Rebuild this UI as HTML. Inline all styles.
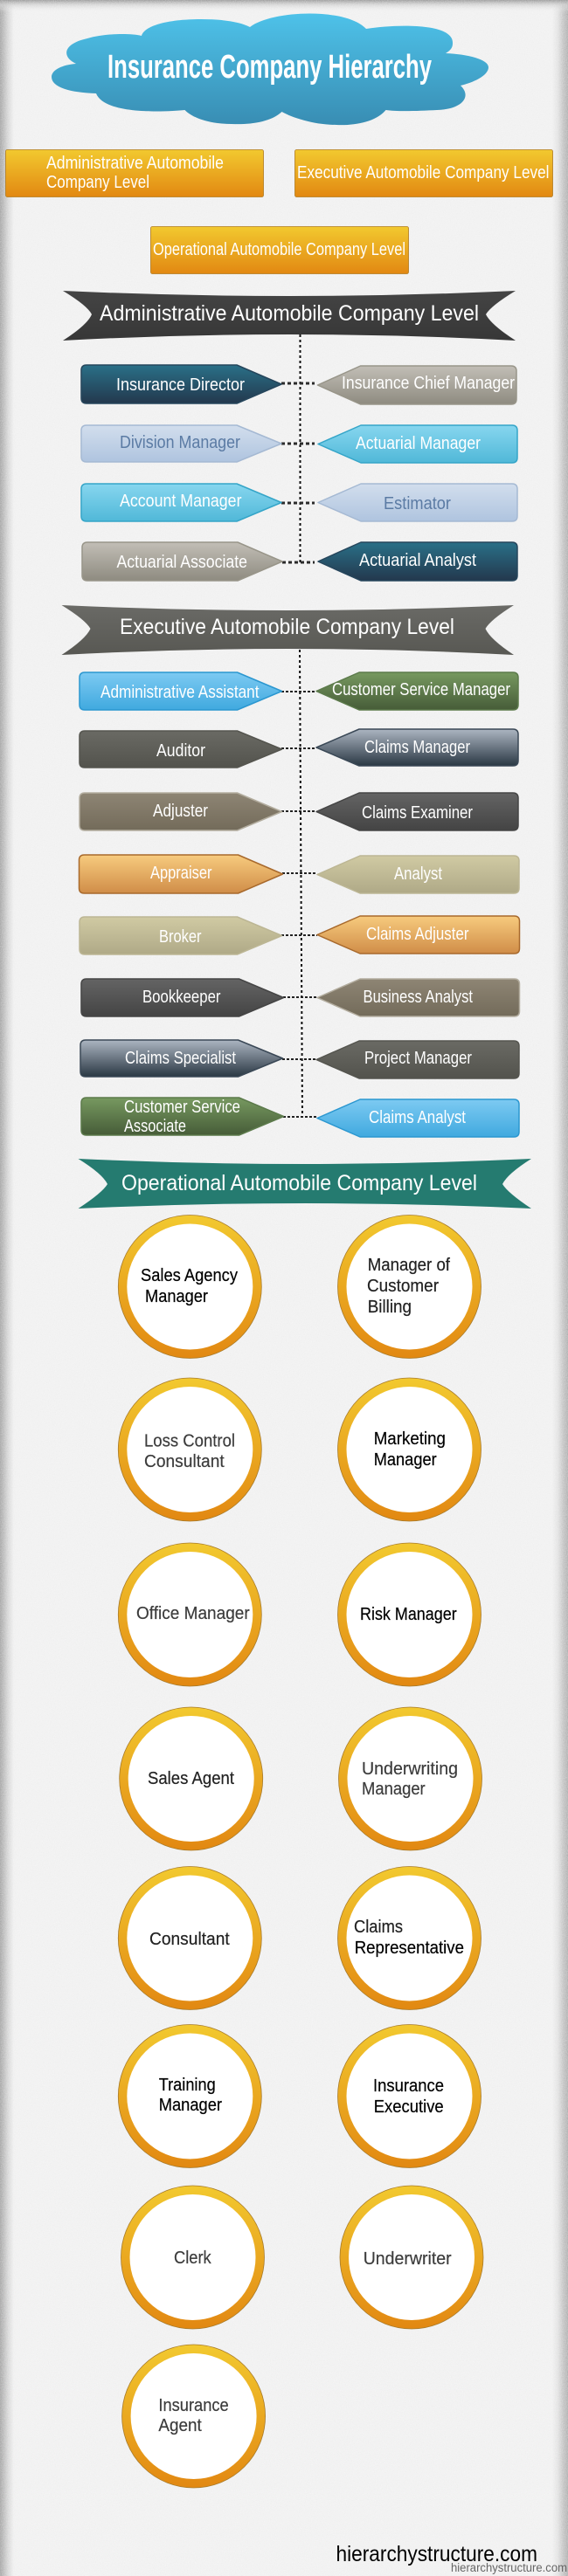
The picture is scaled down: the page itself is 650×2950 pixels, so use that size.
<!DOCTYPE html>
<html lang="en">
<head>
<meta charset="utf-8">
<title>Insurance Company Hierarchy</title>
<style>
html,body{margin:0;padding:0;width:650px;height:2950px;overflow:hidden;background:#f1f1f1}
svg{display:block}
text{font-family:"Liberation Sans",sans-serif;fill:#fff;font-size:20.5px}
.c text{fill:#222;stroke:#222;stroke-width:.2}
.c text.k{fill:#000;stroke:#000}
.c text.m{fill:#3c3c3c;stroke:#3c3c3c}
.h{font-size:25px}
</style>
</head>
<body>
<svg width="650" height="2950" viewBox="0 0 650 2950" xmlns="http://www.w3.org/2000/svg">
<defs>
<linearGradient id="ev" x1="0" x2="1" y1="0" y2="0"><stop offset="0" stop-color="#a4a4a4"/><stop offset=".006" stop-color="#b8b8b8"/><stop offset=".014" stop-color="#d6d6d6"/><stop offset=".024" stop-color="#efefef"/><stop offset=".03" stop-color="#f0f0f0"/><stop offset=".972" stop-color="#f0f0f0"/><stop offset=".982" stop-color="#e2e2e2"/><stop offset=".992" stop-color="#c2c2c2"/><stop offset="1" stop-color="#b0b0b0"/></linearGradient>
<linearGradient id="et" x1="0" x2="0" y1="0" y2="1"><stop offset="0" stop-color="#999"/><stop offset=".4" stop-color="#ccc" stop-opacity=".7"/><stop offset="1" stop-color="#f1f1f1" stop-opacity="0"/></linearGradient>
<filter id="nz" x="0" y="0" width="100%" height="100%"><feTurbulence type="fractalNoise" baseFrequency=".85" numOctaves="2" seed="4"/><feColorMatrix type="matrix" values="0 0 0 0 1  0 0 0 0 1  0 0 0 0 1  0 0 0 .9 -.22"/></filter>
<linearGradient id="cl" x1="0" x2="0" y1="0" y2="1"><stop offset="0" stop-color="#4ec2e9"/><stop offset="1" stop-color="#388db3"/></linearGradient>
<linearGradient id="y" x1="0" x2="0" y1="0" y2="1"><stop offset="0" stop-color="#f2c92f"/><stop offset="1" stop-color="#e28812"/></linearGradient>
<linearGradient id="b1" x1="0" x2="0" y1="0" y2="1"><stop offset="0" stop-color="#444"/><stop offset="1" stop-color="#373737"/></linearGradient>
<linearGradient id="b2" x1="0" x2="0" y1="0" y2="1"><stop offset="0" stop-color="#6a6a66"/><stop offset="1" stop-color="#585853"/></linearGradient>
<linearGradient id="t" x1="0" x2="0" y1="0" y2="1"><stop offset="0" stop-color="#2a7088"/><stop offset="1" stop-color="#23384d"/></linearGradient>
<linearGradient id="g" x1="0" x2="0" y1="0" y2="1"><stop offset="0" stop-color="#c2beb6"/><stop offset="1" stop-color="#8e8b80"/></linearGradient>
<linearGradient id="p" x1="0" x2="0" y1="0" y2="1"><stop offset="0" stop-color="#d2deed"/><stop offset="1" stop-color="#afc4df"/></linearGradient>
<linearGradient id="s" x1="0" x2="0" y1="0" y2="1"><stop offset="0" stop-color="#87d6ef"/><stop offset="1" stop-color="#50b8d8"/></linearGradient>
<linearGradient id="u" x1="0" x2="0" y1="0" y2="1"><stop offset="0" stop-color="#7dcaf2"/><stop offset="1" stop-color="#40a9df"/></linearGradient>
<linearGradient id="n" x1="0" x2="0" y1="0" y2="1"><stop offset="0" stop-color="#779960"/><stop offset="1" stop-color="#465c38"/></linearGradient>
<linearGradient id="d" x1="0" x2="0" y1="0" y2="1"><stop offset="0" stop-color="#6a6a64"/><stop offset="1" stop-color="#53534d"/></linearGradient>
<linearGradient id="l" x1="0" x2="0" y1="0" y2="1"><stop offset="0" stop-color="#acb5c1"/><stop offset="1" stop-color="#2a3843"/></linearGradient>
<linearGradient id="w" x1="0" x2="0" y1="0" y2="1"><stop offset="0" stop-color="#8e8574"/><stop offset="1" stop-color="#736b5a"/></linearGradient>
<linearGradient id="c" x1="0" x2="0" y1="0" y2="1"><stop offset="0" stop-color="#646464"/><stop offset="1" stop-color="#444"/></linearGradient>
<linearGradient id="o" x1="0" x2="0" y1="0" y2="1"><stop offset="0" stop-color="#f7cb7e"/><stop offset="1" stop-color="#d08d48"/></linearGradient>
<linearGradient id="k" x1="0" x2="0" y1="0" y2="1"><stop offset="0" stop-color="#d0caa3"/><stop offset="1" stop-color="#afa987"/></linearGradient>
</defs>

<!-- background -->
<rect width="650" height="2950" fill="url(#ev)"/>
<rect width="650" height="14" fill="url(#et)"/>
<rect width="650" height="2950" filter="url(#nz)" opacity=".55"/>

<!-- cloud -->
<path fill="url(#cl)" d="M286,31 C310,12 395,8 419,33 C450,28 520,25 518,50 C518,55 515,58 510,61 C535,62 559,68 559,77 C559,87 540,95 527,98 C540,110 530,125 500,126 C480,127 455,128 441.5,126 C430,140 405,144 385,143 C360,143 335,135 322.5,128 C310,140 285,143 265,142 C240,142 220,135 211.5,126 C190,128 120,132 110,107 C80,106 59,100 59,88 C59,80 72,74 87,73 C70,65 72,50 100,44 C120,38 150,38 162,41 C165,30 190,22 230,22 C255,22 275,25 286,31Z"/>
<text x="123" y="89" textLength="371" lengthAdjust="spacingAndGlyphs" style="font-family:'Liberation Sans Narrow','Liberation Sans',sans-serif;font-size:38px;font-weight:700">Insurance Company Hierarchy</text>

<!-- orange boxes -->
<g fill="url(#y)" stroke="#b07a1e" stroke-width=".8">
<rect x="6.5" y="171.5" width="295" height="54" rx="2"/>
<rect x="337.5" y="171.5" width="295" height="54" rx="2"/>
<rect x="172.5" y="259.5" width="295" height="54" rx="2"/>
</g>
<text x="53" y="193" textLength="203" lengthAdjust="spacingAndGlyphs">Administrative Automobile</text>
<text x="53" y="215" textLength="118" lengthAdjust="spacingAndGlyphs">Company Level</text>
<text x="340" y="204" textLength="288.5" lengthAdjust="spacingAndGlyphs">Executive Automobile Company Level</text>
<text x="175" y="292" textLength="289" lengthAdjust="spacingAndGlyphs">Operational Automobile Company Level</text>

<!-- banners -->
<path fill="url(#b1)" d="M72,333 Q331,345 590,333 Q562,350 556,360 Q562,372 590,390 Q331,376 72,390 Q100,372 105,360 Q100,350 72,333Z"/>
<text class="h" x="114" y="367" textLength="434" lengthAdjust="spacingAndGlyphs">Administrative Automobile Company Level</text>
<path fill="url(#b2)" d="M70.5,693 Q330,705 588,693 Q561,710 555.5,720 Q561,732 588,750 Q330,736 70.5,750 Q98,732 103.5,720 Q98,710 70.5,693Z"/>
<text class="h" x="137" y="726" textLength="383" lengthAdjust="spacingAndGlyphs">Executive Automobile Company Level</text>
<path fill="#257b70" d="M89.5,1327 Q349,1339 608,1327 Q581,1344 575,1356 Q581,1366 608,1384 Q349,1372 89.5,1384 Q117,1366 123,1356 Q117,1344 89.5,1327Z"/>
<text class="h" x="139" y="1363" textLength="407" lengthAdjust="spacingAndGlyphs">Operational Automobile Company Level</text>

<!-- vertical connectors -->
<g fill="none">
<path d="M343.5,383V644" stroke="#fff" stroke-width="2"/>
<path d="M343.5,383V644" stroke="#111" stroke-width="2" stroke-dasharray="3 3"/>
<path d="M343,744L346,1279" stroke="#fff" stroke-width="2"/>
<path d="M343,744L346,1279" stroke="#111" stroke-width="2" stroke-dasharray="3 3"/>
<g stroke="#2b2b2b" stroke-width="3" stroke-dasharray="4 3">
<path d="M322,439H360M322,508H360M322,576H360M323,644H360"/>
</g>
<g stroke="#222" stroke-width="2" stroke-dasharray="3 2">
<path d="M322,792H362M322,857H362M322,929H362M323,1000H363M322,1071H363M324,1142H363M323,1213H362M324,1279H363"/>
</g>
</g>

<!-- admin shapes -->
<g stroke-linejoin="round" stroke-width="1.5">
<path fill="url(#t)" stroke="#26465c" d="M99,418H271L322,440L271,462H99Q93,462 93,456V424Q93,418 99,418Z"/>
<path fill="url(#p)" stroke="#a5b9d3" d="M99,487H271L322,508L271,529H99Q93,529 93,523V493Q93,487 99,487Z"/>
<path fill="url(#s)" stroke="#35a5c8" d="M99,554H271L322,575.5L271,597H99Q93,597 93,591V560Q93,554 99,554Z"/>
<path fill="url(#g)" stroke="#989589" d="M100,621H272L323,643L272,665H100Q94,665 94,659V627Q94,621 100,621Z"/>
<path fill="url(#g)" stroke="#989589" d="M363.5,441L412.5,419H585Q591,419 591,425V457Q591,463 585,463H412.5Z"/>
<path fill="url(#s)" stroke="#35a5c8" d="M364,508.5L413,487H586Q592,487 592,493V524Q592,530 586,530H413Z"/>
<path fill="url(#p)" stroke="#a5b9d3" d="M364,575.5L413,554H586Q592,554 592,560V591Q592,597 586,597H413Z"/>
<path fill="url(#t)" stroke="#26465c" d="M364,643L413,621H586Q592,621 592,627V659Q592,665 586,665H413Z"/>

<!-- exec left -->
<path fill="url(#u)" stroke="#2b97d0" d="M97,770H271.5L322.5,791.5L271.5,813H97Q91,813 91,807V776Q91,770 97,770Z"/>
<path fill="url(#d)" stroke="#55554f" d="M97,837H271.5L322.5,858L271.5,879H97Q91,879 91,873V843Q91,837 97,837Z"/>
<path fill="url(#w)" stroke="#b3ad9f" d="M97,908H271.5L322.5,929.5L271.5,951H97Q91,951 91,945V914Q91,908 97,908Z"/>
<path fill="url(#o)" stroke="#a8692c" d="M96.5,979H272.5L323.5,1001L272.5,1023H96.5Q90.5,1023 90.5,1017V985Q90.5,979 96.5,979Z"/>
<path fill="url(#k)" stroke="#bcb694" d="M97,1050H271.5L322.5,1071.5L271.5,1093H97Q91,1093 91,1087V1056Q91,1050 97,1050Z"/>
<path fill="url(#c)" stroke="#454545" d="M99,1121H273.5L324.5,1142.5L273.5,1164H99Q93,1164 93,1158V1127Q93,1121 99,1121Z"/>
<path fill="url(#l)" stroke="#3a4856" d="M98,1191H272.5L323.5,1212L272.5,1233H98Q92,1233 92,1227V1197Q92,1191 98,1191Z"/>
<path fill="url(#n)" stroke="#5c7a4b" d="M99,1257H273.5L324.5,1278.5L273.5,1300H99Q93,1300 93,1294V1263Q93,1257 99,1257Z"/>

<!-- exec right -->
<path fill="url(#n)" stroke="#5c7a4b" d="M362,791.5L411,770H587Q593,770 593,776V807Q593,813 587,813H411Z"/>
<path fill="url(#l)" stroke="#3a4856" d="M362,856L411,835H587Q593,835 593,841V871Q593,877 587,877H411Z"/>
<path fill="url(#c)" stroke="#454545" d="M362,929.5L411,908H587Q593,908 593,914V945Q593,951 587,951H411Z"/>
<path fill="url(#k)" stroke="#bcb694" d="M363,1001.5L412,980H588Q594,980 594,986V1017Q594,1023 588,1023H412Z"/>
<path fill="url(#o)" stroke="#a8692c" d="M363,1070.5L412,1049H588.5Q594.5,1049 594.5,1055V1086Q594.5,1092 588.5,1092H412Z"/>
<path fill="url(#w)" stroke="#b3ad9f" d="M363,1142.5L412,1121H588.5Q594.5,1121 594.5,1127V1158Q594.5,1164 588.5,1164H412Z"/>
<path fill="url(#d)" stroke="#55554f" d="M362,1213.5L411,1192H588Q594,1192 594,1198V1229Q594,1235 588,1235H411Z"/>
<path fill="url(#u)" stroke="#2b97d0" d="M363,1280.5L412,1259H588Q594,1259 594,1265V1296Q594,1302 588,1302H412Z"/>
</g>

<!-- row labels -->
<text x="133" y="447" textLength="147" lengthAdjust="spacingAndGlyphs">Insurance Director</text>
<text x="391" y="445" textLength="198" lengthAdjust="spacingAndGlyphs">Insurance Chief Manager</text>
<text x="137" y="513" textLength="138" lengthAdjust="spacingAndGlyphs" style="fill:#5b7ba4">Division Manager</text>
<text x="407" y="514" textLength="143" lengthAdjust="spacingAndGlyphs">Actuarial Manager</text>
<text x="137" y="580" textLength="139.5" lengthAdjust="spacingAndGlyphs">Account Manager</text>
<text x="439" y="583" textLength="77" lengthAdjust="spacingAndGlyphs" style="fill:#5b7ba4">Estimator</text>
<text x="133.5" y="650" textLength="149.5" lengthAdjust="spacingAndGlyphs">Actuarial Associate</text>
<text x="411" y="648" textLength="134" lengthAdjust="spacingAndGlyphs">Actuarial Analyst</text>

<text x="115" y="799" textLength="181.5" lengthAdjust="spacingAndGlyphs">Administrative Assistant</text>
<text x="380" y="796" textLength="204" lengthAdjust="spacingAndGlyphs">Customer Service Manager</text>
<text x="179" y="866" textLength="56" lengthAdjust="spacingAndGlyphs">Auditor</text>
<text x="417" y="862" textLength="121" lengthAdjust="spacingAndGlyphs">Claims Manager</text>
<text x="175" y="935" textLength="63" lengthAdjust="spacingAndGlyphs">Adjuster</text>
<text x="414" y="937" textLength="127" lengthAdjust="spacingAndGlyphs">Claims Examiner</text>
<text x="172" y="1006" textLength="70.5" lengthAdjust="spacingAndGlyphs">Appraiser</text>
<text x="451" y="1007" textLength="55" lengthAdjust="spacingAndGlyphs">Analyst</text>
<text x="182" y="1079" textLength="48.5" lengthAdjust="spacingAndGlyphs">Broker</text>
<text x="419" y="1076" textLength="117.5" lengthAdjust="spacingAndGlyphs">Claims Adjuster</text>
<text x="163" y="1148" textLength="89.5" lengthAdjust="spacingAndGlyphs">Bookkeeper</text>
<text x="415.5" y="1148" textLength="125.5" lengthAdjust="spacingAndGlyphs">Business Analyst</text>
<text x="143" y="1218" textLength="127" lengthAdjust="spacingAndGlyphs">Claims Specialist</text>
<text x="417" y="1218" textLength="123" lengthAdjust="spacingAndGlyphs">Project Manager</text>
<text x="142" y="1274" textLength="133" lengthAdjust="spacingAndGlyphs">Customer Service</text>
<text x="142" y="1296" textLength="71" lengthAdjust="spacingAndGlyphs">Associate</text>
<text x="422" y="1286" textLength="111" lengthAdjust="spacingAndGlyphs">Claims Analyst</text>

<!-- circles -->
<g fill="url(#y)" stroke="#a87b2a" stroke-width=".8">
<circle cx="217.3" cy="1473.5" r="82"/><circle cx="468.5" cy="1473.5" r="82"/>
<circle cx="217.3" cy="1660" r="82"/><circle cx="468.5" cy="1660" r="82"/>
<circle cx="217.3" cy="1849" r="82"/><circle cx="468.5" cy="1849" r="82"/>
<circle cx="218.7" cy="2037" r="82"/><circle cx="469.5" cy="2037" r="82"/>
<circle cx="217.3" cy="2219.5" r="82"/><circle cx="468.5" cy="2219.5" r="82"/>
<circle cx="217.3" cy="2400.5" r="82"/><circle cx="468.5" cy="2400.5" r="82"/>
<circle cx="220.5" cy="2585" r="82"/><circle cx="471" cy="2585" r="82"/>
<circle cx="221.6" cy="2767" r="82"/>
</g>
<g fill="#fff">
<circle cx="217.3" cy="1473.5" r="72"/><circle cx="468.5" cy="1473.5" r="72"/>
<circle cx="217.3" cy="1660" r="72"/><circle cx="468.5" cy="1660" r="72"/>
<circle cx="217.3" cy="1849" r="72"/><circle cx="468.5" cy="1849" r="72"/>
<circle cx="218.7" cy="2037" r="72"/><circle cx="469.5" cy="2037" r="72"/>
<circle cx="217.3" cy="2219.5" r="72"/><circle cx="468.5" cy="2219.5" r="72"/>
<circle cx="217.3" cy="2400.5" r="72"/><circle cx="468.5" cy="2400.5" r="72"/>
<circle cx="220.5" cy="2585" r="72"/><circle cx="471" cy="2585" r="72"/>
<circle cx="221.6" cy="2767" r="72"/>
</g>

<g class="c">
<text class="k" x="161" y="1467" textLength="111" lengthAdjust="spacingAndGlyphs">Sales Agency</text>
<text class="k" x="166" y="1491" textLength="72" lengthAdjust="spacingAndGlyphs">Manager</text>
<text x="420.7" y="1455" textLength="94.3" lengthAdjust="spacingAndGlyphs">Manager of</text>
<text x="420" y="1479" textLength="82" lengthAdjust="spacingAndGlyphs">Customer</text>
<text x="420.7" y="1503" textLength="50.3" lengthAdjust="spacingAndGlyphs">Billing</text>
<text class="m" x="165" y="1656.4" textLength="104" lengthAdjust="spacingAndGlyphs">Loss Control</text>
<text class="m" x="165" y="1680" textLength="91.7" lengthAdjust="spacingAndGlyphs">Consultant</text>
<text class="k" x="427.7" y="1654" textLength="82.3" lengthAdjust="spacingAndGlyphs">Marketing</text>
<text class="k" x="427.7" y="1678" textLength="72" lengthAdjust="spacingAndGlyphs">Manager</text>
<text class="m" x="156" y="1854" textLength="129.7" lengthAdjust="spacingAndGlyphs">Office Manager</text>
<text class="k" x="412" y="1855" textLength="110.7" lengthAdjust="spacingAndGlyphs">Risk Manager</text>
<text x="169" y="2043" textLength="99" lengthAdjust="spacingAndGlyphs">Sales Agent</text>
<text class="m" x="414" y="2032" textLength="110" lengthAdjust="spacingAndGlyphs">Underwriting</text>
<text class="m" x="414" y="2055" textLength="72.7" lengthAdjust="spacingAndGlyphs">Manager</text>
<text x="171" y="2227" textLength="91.7" lengthAdjust="spacingAndGlyphs">Consultant</text>
<text x="405" y="2213" textLength="56" lengthAdjust="spacingAndGlyphs">Claims</text>
<text class="k" x="405.7" y="2237" textLength="125.3" lengthAdjust="spacingAndGlyphs">Representative</text>
<text class="k" x="181.7" y="2394" textLength="65" lengthAdjust="spacingAndGlyphs">Training</text>
<text class="k" x="181.7" y="2417" textLength="72.3" lengthAdjust="spacingAndGlyphs">Manager</text>
<text class="k" x="427" y="2395" textLength="81" lengthAdjust="spacingAndGlyphs">Insurance</text>
<text class="k" x="427.7" y="2419" textLength="80" lengthAdjust="spacingAndGlyphs">Executive</text>
<text class="m" x="199" y="2592" textLength="42.7" lengthAdjust="spacingAndGlyphs">Clerk</text>
<text class="m" x="415.7" y="2593" textLength="101" lengthAdjust="spacingAndGlyphs">Underwriter</text>
<text class="m" x="181.4" y="2761" textLength="80.3" lengthAdjust="spacingAndGlyphs">Insurance</text>
<text class="m" x="181.4" y="2784" textLength="49.4" lengthAdjust="spacingAndGlyphs">Agent</text>
</g>

<!-- footer -->
<text x="384.5" y="2933" textLength="230.5" lengthAdjust="spacingAndGlyphs" style="font-size:25px;fill:#000">hierarchystructure.com</text>
<text x="516" y="2945" textLength="133" lengthAdjust="spacingAndGlyphs" style="font-size:13.5px;fill:#666">hierarchystructure.com</text>
</svg>
</body>
</html>
